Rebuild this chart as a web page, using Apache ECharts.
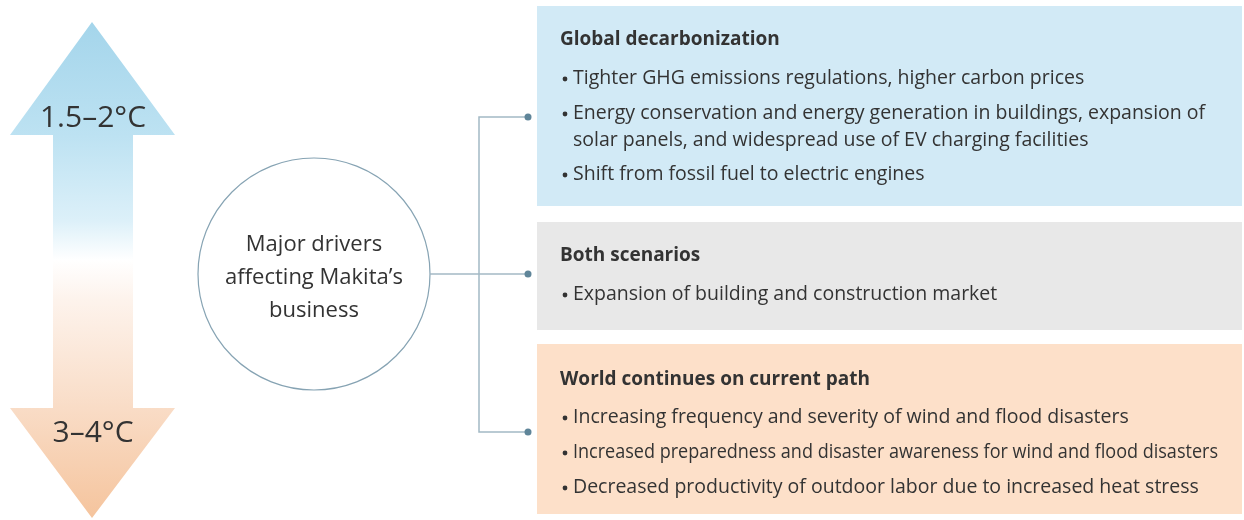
<!DOCTYPE html>
<html>
<head>
<meta charset="utf-8">
<script src="https://cdn.jsdelivr.net/npm/echarts@6/dist/echarts.min.js"></script>
<style>
html,body{margin:0;padding:0;background:#fff;}
#chart{width:1244px;height:520px;}
</style>
</head>
<body>
<div id="chart"></div>
<script>
// ---- content ----
const arrowLabels = ['1.5–2°C', '3–4°C'];
const centerLabel = ['Major drivers', 'affecting Makita’s', 'business'];
const boxTitles = ['Global decarbonization', 'Both scenarios', 'World continues on current path'];
const boxBullets1 = [
  ['Tighter GHG emissions regulations, higher carbon prices'],
  ['Energy conservation and energy generation in buildings, expansion of', 'solar panels, and widespread use of EV charging facilities'],
  ['Shift from fossil fuel to electric engines']
];
const boxBullets2 = [
  ['Expansion of building and construction market']
];
const boxBullets3 = [
  ['Increasing frequency and severity of wind and flood disasters'],
  ['Increased preparedness and disaster awareness for wind and flood disasters'],
  ['Decreased productivity of outdoor labor due to increased heat stress']
];
const boxColors = ['#d2eaf6', '#e8e8e8', '#fde0c9'];

// ---- layout ----
const FONT = '"Open Sans", "Noto Sans", sans-serif';
const TEXT = '#333333';
const BODY_FONT = '19.5px ' + FONT;
const boxes = [
  {y: 6, h: 200, bullets: boxBullets1, titleY: 40, bulletYs: [[78], [113, 140], [174]]},
  {y: 222, h: 108, bullets: boxBullets2, titleY: 256, bulletYs: [[294]]},
  {y: 344, h: 170, bullets: boxBullets3, titleY: 380, bulletYs: [[417], [452], [487]]}
];
const boxX = 537, boxW = 705;
const textX = 573, maxTextW = 645;

const measureCtx = document.createElement('canvas').getContext('2d');
function textWidth(t, font) { measureCtx.font = font; return measureCtx.measureText(t).width; }

const els = [];

// arrow
els.push({
  type: 'polygon',
  shape: {points: [[92,22],[175,135],[133,135],[133,408],[175,408],[92,518],[10,408],[53,408],[53,135],[10,135]]},
  style: {
    fill: new echarts.graphic.LinearGradient(0, 0, 0, 1, [
      {offset: 0, color: '#a4d5eb'},
      {offset: 0.23, color: '#bde2f2'},
      {offset: 0.40, color: '#dcf0f9'},
      {offset: 0.48, color: '#ffffff'},
      {offset: 0.56, color: '#fdf3ec'},
      {offset: 0.78, color: '#f9dcc6'},
      {offset: 1, color: '#f5c49d'}
    ])
  }
});
els.push({type: 'text', style: {text: arrowLabels[0], x: 93, y: 118, font: '30px ' + FONT, fill: TEXT, align: 'center', verticalAlign: 'middle'}});
els.push({type: 'text', style: {text: arrowLabels[1], x: 93, y: 433, font: '30px ' + FONT, fill: TEXT, align: 'center', verticalAlign: 'middle'}});

// circle
els.push({type: 'circle', shape: {cx: 314, cy: 274, r: 116}, style: {fill: '#fff', stroke: '#86a3b3', lineWidth: 1.2}});
centerLabel.forEach((t, i) => {
  els.push({type: 'text', style: {text: t, x: 314, y: 245 + i * 33, font: '22px ' + FONT, fill: TEXT, align: 'center', verticalAlign: 'middle'}});
});

// connectors
const lineStyle = {stroke: '#a3b9c5', lineWidth: 1.5};
els.push({type: 'polyline', shape: {points: [[430, 274], [528, 274]]}, style: lineStyle});
els.push({type: 'polyline', shape: {points: [[528, 117], [479, 117], [479, 432], [528, 432]]}, style: Object.assign({fill: null}, lineStyle)});
[117, 274, 432].forEach(y => {
  els.push({type: 'circle', shape: {cx: 528, cy: y, r: 3.5}, style: {fill: '#5f8599'}});
});

// boxes
boxes.forEach((b, i) => {
  els.push({type: 'rect', shape: {x: boxX, y: b.y, width: boxW, height: b.h}, style: {fill: boxColors[i]}});
  els.push({type: 'text', style: {text: boxTitles[i], x: 560, y: b.titleY, font: 'bold 19px ' + FONT, fill: TEXT, verticalAlign: 'middle'}});
  b.bullets.forEach((lines, j) => {
    lines.forEach((ln, k) => {
      const y = b.bulletYs[j][k];
      if (k === 0) {
        els.push({type: 'circle', shape: {cx: 565, cy: y + 1, r: 2.4}, style: {fill: TEXT}});
      }
      const w = textWidth(ln, BODY_FONT);
      const sx = w > maxTextW ? maxTextW / w : 1;
      els.push({type: 'text', x: textX, y: y, scaleX: sx,
        style: {text: ln, x: 0, y: 0, font: BODY_FONT, fill: TEXT, verticalAlign: 'middle'}});
    });
  });
});

const chart = echarts.init(document.getElementById('chart'), null, {renderer: 'canvas'});
chart.setOption({animation: false, graphic: {elements: els}});
</script>
</body>
</html>
